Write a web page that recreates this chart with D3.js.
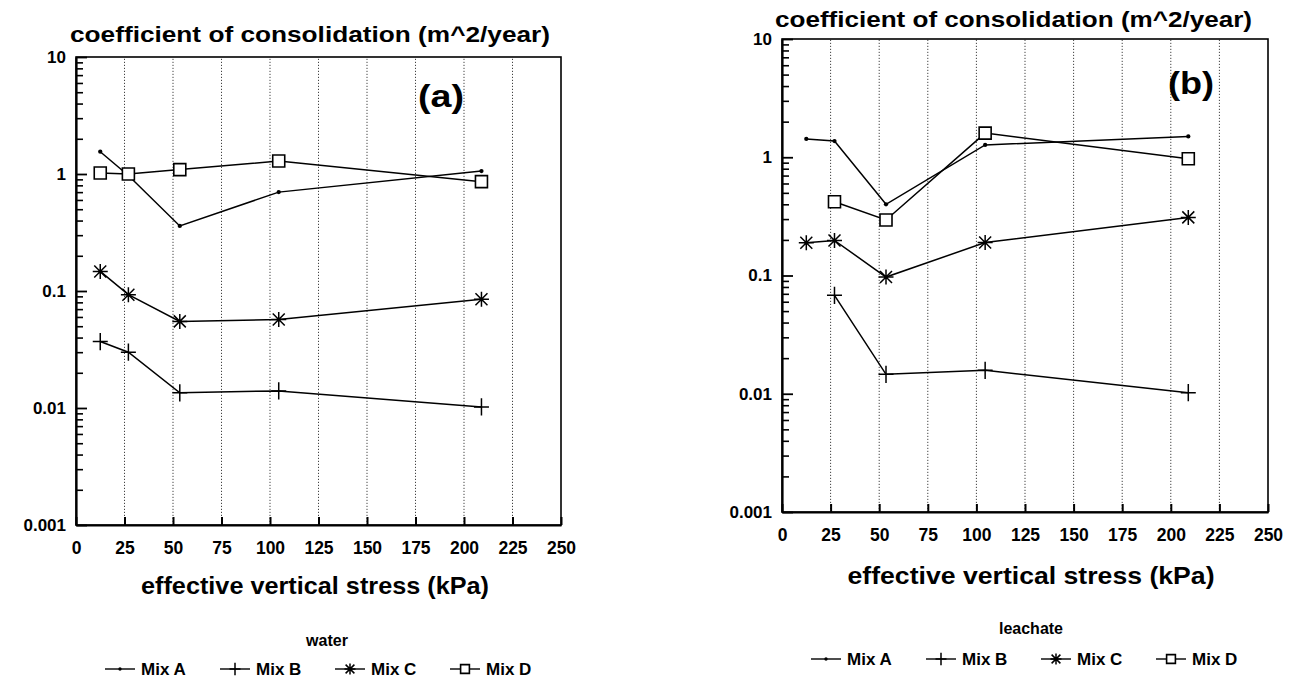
<!DOCTYPE html>
<html>
<head>
<meta charset="utf-8">
<script src="https://cdn.jsdelivr.net/npm/d3@7/dist/d3.min.js"></script>
<style>
  html, body { margin: 0; padding: 0; background: #fff; }
  svg { display: block; }
  text { font-family: "Liberation Sans", Arial, Helvetica, sans-serif; font-weight: bold; fill: #000; }
</style>
</head>
<body>
<svg id="chart" width="1293" height="682"></svg>
<script>
// ---------- data ----------
const seriesNames = ["Mix A", "Mix B", "Mix C", "Mix D"];
const stress = [12.5, 27, 53.5, 104.5, 209];              // effective vertical stress (kPa)
const xTicks = [0, 25, 50, 75, 100, 125, 150, 175, 200, 225, 250];
const yTicks = [0.001, 0.01, 0.1, 1, 10];
const yTickLabels = ["0.001", "0.01", "0.1", "1", "10"];

// (a) water
const waterMixA = [1.55, 0.97, 0.36, 0.70, 1.06];
const waterMixB = [0.037, 0.030, 0.0135, 0.014, 0.0102];
const waterMixC = [0.147, 0.093, 0.055, 0.057, 0.085];
const waterMixD = [1.02, 1.0, 1.09, 1.29, 0.86];

// (b) leachate
const leachateMixA = [1.43, 1.37, 0.40, 1.27, 1.5];
const leachateMixB = [null, 0.068, 0.0146, 0.0158, 0.0102];
const leachateMixC = [0.189, 0.198, 0.097, 0.19, 0.31];
const leachateMixD = [null, 0.42, 0.295, 1.6, 0.97];

const yTitle = "coefficient of consolidation (m^2/year)";
const xTitle = "effective vertical stress (kPa)";

// ---------- layout ----------
const panels = [
  { tag: "(a)", legendTitle: "water",
    series: [waterMixA, waterMixB, waterMixC, waterMixD],
    left: 76, right: 561, top: 57, bottom: 525,
    titleX: 70, titleY: 42, titleLen: 480,
    tagX: 418, tagY: 107,
    xTitleX: 315, xTitleY: 594, xTitleLen: 348,
    legTitleX: 327, legTitleY: 646, legX: 105, legY: 675 },
  { tag: "(b)", legendTitle: "leachate",
    series: [leachateMixA, leachateMixB, leachateMixC, leachateMixD],
    left: 782, right: 1268, top: 39, bottom: 512,
    titleX: 775, titleY: 27, titleLen: 477,
    tagX: 1168, tagY: 94,
    xTitleX: 1031, xTitleY: 584, xTitleLen: 367,
    legTitleX: 1031, legTitleY: 634, legX: 811, legY: 665 }
];

const svg = d3.select("#chart");

function markerPath(kind, s) {
  const h = s / 2;
  if (kind === 0) { // small dot
    return d3.symbol().type(d3.symbolCircle).size(s * 0.9)();
  }
  if (kind === 1) { // plus
    return `M${-h},0L${h},0M0,${-h * 1.15}L0,${h * 1.15}`;
  }
  if (kind === 2) { // asterisk
    const d = h * 0.8;
    return `M0,${-h}L0,${h}M${-d},${-d}L${d},${d}M${-d},${d}L${d},${-d}M${-h},0L${h},0`;
  }
  // square
  return `M${-h * 0.8},${-h * 0.8}H${h * 0.8}V${h * 0.8}H${-h * 0.8}Z`;
}

function drawMarker(g, kind, cx, cy, s) {
  const p = g.append("path")
    .attr("transform", `translate(${cx},${cy})`)
    .attr("d", markerPath(kind, s))
    .attr("stroke", "#000");
  if (kind === 0) p.attr("fill", "#000").attr("stroke", "none");
  else if (kind === 3) p.attr("fill", "#fff").attr("stroke-width", 1.6);
  else p.attr("fill", "none").attr("stroke-width", 1.5);
}

panels.forEach(P => {
  const x = d3.scaleLinear().domain([0, 250]).range([P.left, P.right]);
  const y = d3.scaleLog().domain([0.001, 10]).range([P.bottom, P.top]);
  const g = svg.append("g");

  // dotted vertical grid
  g.append("g").selectAll("line")
    .data(xTicks.filter(t => t > 0 && t < 250))
    .join("line")
    .attr("x1", d => x(d)).attr("x2", d => x(d))
    .attr("y1", P.bottom).attr("y2", P.top)
    .attr("stroke", "#444").attr("stroke-width", 1)
    .attr("stroke-dasharray", "1.2,1.8");

  // frame
  g.append("rect")
    .attr("x", P.left).attr("y", P.top)
    .attr("width", P.right - P.left).attr("height", P.bottom - P.top)
    .attr("fill", "none").attr("stroke", "#000").attr("stroke-width", 1.6);

  // x axis (ticks inward)
  const xa = g.append("g").attr("transform", `translate(0,${P.bottom})`)
    .call(d3.axisBottom(x).tickValues(xTicks).tickSizeInner(-8).tickSizeOuter(0)
      .tickPadding(17).tickFormat(d3.format("d")));
  xa.select(".domain").attr("stroke-width", 2.2);
  xa.selectAll(".tick line").attr("stroke-width", 2);
  xa.selectAll("text").attr("font-size", 17.5).attr("font-family", null);

  // y axis: major ticks
  const ya = g.append("g").attr("transform", `translate(${P.left},0)`)
    .call(d3.axisLeft(y).tickValues(yTicks).tickSizeInner(-11).tickSizeOuter(0)
      .tickPadding(10).tickFormat((d, i) => yTickLabels[i]));
  ya.select(".domain").attr("stroke-width", 2.2);
  ya.selectAll(".tick line").attr("stroke-width", 1.8);
  ya.selectAll("text").attr("font-size", 17).attr("font-family", null);

  // y axis: minor ticks
  const minor = [];
  yTicks.slice(0, -1).forEach(t => { for (let k = 2; k <= 9; k++) minor.push(t * k); });
  const ym = g.append("g").attr("transform", `translate(${P.left},0)`)
    .call(d3.axisLeft(y).tickValues(minor).tickSizeInner(-7).tickSizeOuter(0).tickFormat(""));
  ym.select(".domain").remove();
  ym.selectAll(".tick line").attr("stroke-width", 1.6);

  // series lines + markers
  const line = d3.line()
    .defined(d => d.v != null)
    .x(d => x(d.s)).y(d => y(d.v));
  P.series.forEach((vals, si) => {
    const pts = vals.map((v, i) => ({ s: stress[i], v }));
    g.append("path").datum(pts)
      .attr("d", line).attr("fill", "none")
      .attr("stroke", "#000").attr("stroke-width", 1.5);
    const size = si === 0 ? 16 : 15;
    pts.filter(d => d.v != null).forEach(d => drawMarker(g, si, x(d.s), y(d.v), size));
  });

  // titles
  g.append("text").attr("x", P.titleX).attr("y", P.titleY)
    .attr("font-size", 22).attr("textLength", P.titleLen).attr("lengthAdjust", "spacingAndGlyphs")
    .text(yTitle);
  g.append("text").attr("x", P.tagX).attr("y", P.tagY)
    .attr("font-size", 31).attr("textLength", 46).attr("lengthAdjust", "spacingAndGlyphs")
    .text(P.tag);
  g.append("text").attr("x", P.xTitleX).attr("y", P.xTitleY)
    .attr("text-anchor", "middle").attr("font-size", 24)
    .attr("textLength", P.xTitleLen).attr("lengthAdjust", "spacingAndGlyphs")
    .text(xTitle);

  // legend
  g.append("text").attr("x", P.legTitleX).attr("y", P.legTitleY)
    .attr("text-anchor", "middle").attr("font-size", 16).text(P.legendTitle);
  seriesNames.forEach((name, si) => {
    const lx = P.legX + si * 115;
    const ly = P.legY - 6;
    g.append("line").attr("x1", lx).attr("x2", lx + 30)
      .attr("y1", ly).attr("y2", ly).attr("stroke", "#000").attr("stroke-width", 1.4);
    drawMarker(g, si, lx + 15, ly, si === 0 ? 10 : 11);
    g.append("text").attr("x", lx + 36).attr("y", P.legY)
      .attr("font-size", 17).text(name);
  });
});
</script>
</body>
</html>
